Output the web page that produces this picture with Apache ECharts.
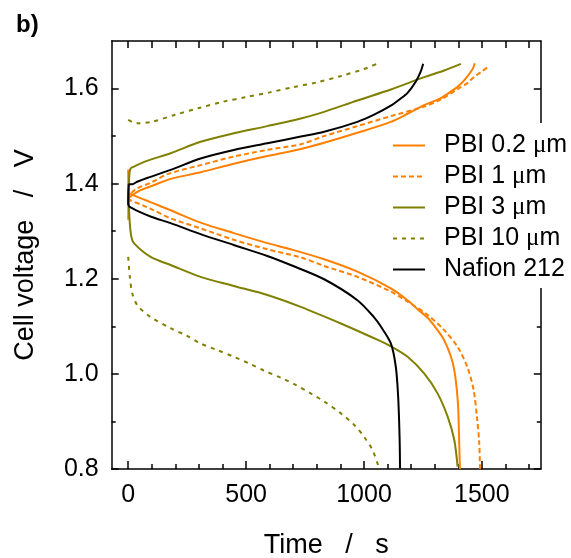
<!DOCTYPE html>
<html>
<head>
<meta charset="utf-8">
<script src="https://cdn.jsdelivr.net/npm/echarts@6/dist/echarts.min.js"></script>
<style>html,body{margin:0;padding:0;background:#fff;}#c{width:571px;height:558px;}</style>
</head>
<body>
<div id="c"></div>
<script>
// ---- data (time in s, cell voltage in V) ----
const pbi02ChargeT = [0, 3, 10, 50, 100, 180, 307, 448, 590, 732, 831, 972, 1114, 1185, 1255, 1326, 1369, 1397, 1425, 1461, 1470];
const pbi02ChargeV = [1.43, 1.37, 1.373, 1.386, 1.395, 1.410, 1.424, 1.442, 1.458, 1.473, 1.486, 1.507, 1.530, 1.547, 1.565, 1.580, 1.594, 1.604, 1.617, 1.641, 1.653];
const pbi02DisT = [0, 3, 10, 60, 100, 180, 307, 448, 590, 689, 831, 972, 1114, 1185, 1227, 1270, 1312, 1340, 1369, 1383, 1394, 1400, 1404, 1407];
const pbi02DisV = [1.324, 1.38, 1.378, 1.368, 1.360, 1.344, 1.318, 1.296, 1.275, 1.262, 1.241, 1.215, 1.180, 1.155, 1.136, 1.118, 1.092, 1.071, 1.036, 1.008, 0.966, 0.924, 0.854, 0.800];

const pbi1ChargeT = [0, 10, 38, 100, 166, 307, 448, 590, 732, 831, 972, 1114, 1255, 1330, 1397, 1440, 1468, 1500, 1522];
const pbi1ChargeV = [1.365, 1.378, 1.390, 1.403, 1.420, 1.439, 1.457, 1.471, 1.483, 1.500, 1.521, 1.542, 1.562, 1.578, 1.599, 1.612, 1.625, 1.636, 1.644];
const pbi1DisT = [0, 10, 60, 100, 180, 307, 448, 590, 732, 831, 972, 1114, 1185, 1270, 1340, 1397, 1440, 1465, 1479, 1489, 1492];
const pbi1DisV = [1.37, 1.365, 1.355, 1.346, 1.327, 1.306, 1.282, 1.262, 1.245, 1.227, 1.204, 1.173, 1.152, 1.124, 1.092, 1.057, 1.012, 0.966, 0.910, 0.854, 0.800];

const pbi3ChargeT = [0, 5, 10, 24, 80, 180, 307, 448, 590, 732, 831, 972, 1114, 1255, 1340, 1411];
const pbi3ChargeV = [1.36, 1.42, 1.432, 1.436, 1.448, 1.464, 1.488, 1.506, 1.521, 1.537, 1.551, 1.575, 1.598, 1.624, 1.638, 1.652];
const pbi3DisT = [0, 5, 13, 24, 95, 180, 307, 448, 590, 732, 902, 1043, 1114, 1185, 1255, 1312, 1355, 1383, 1397];
const pbi3DisV = [1.40, 1.33, 1.289, 1.275, 1.246, 1.229, 1.204, 1.185, 1.166, 1.141, 1.106, 1.075, 1.058, 1.036, 1.001, 0.959, 0.910, 0.861, 0.805];

const pbi10ChargeT = [0, 20, 40, 100, 200, 300, 400, 500, 600, 700, 800, 900, 1000, 1054];
const pbi10ChargeV = [1.534, 1.529, 1.527, 1.530, 1.545, 1.559, 1.572, 1.582, 1.592, 1.603, 1.613, 1.626, 1.641, 1.652];
const pbi10DisT = [0, 7, 17, 38, 88, 180, 250, 307, 378, 448, 512, 576, 647, 710, 774, 831, 902, 958, 1000, 1036, 1060];
const pbi10DisV = [1.246, 1.204, 1.170, 1.145, 1.122, 1.096, 1.080, 1.064, 1.050, 1.036, 1.022, 1.007, 0.992, 0.977, 0.959, 0.942, 0.917, 0.893, 0.868, 0.840, 0.808];

const nafChargeT = [0, 3, 17, 38, 80, 180, 307, 448, 590, 732, 831, 972, 1043, 1114, 1150, 1185, 1220, 1241, 1251];
const nafChargeV = [1.355, 1.399, 1.399, 1.404, 1.412, 1.429, 1.453, 1.471, 1.485, 1.499, 1.509, 1.530, 1.545, 1.564, 1.577, 1.591, 1.615, 1.636, 1.652];
const nafDisT = [0, 10, 60, 100, 180, 307, 448, 590, 689, 831, 972, 1043, 1071, 1114, 1135, 1145, 1151, 1153];
const nafDisV = [1.355, 1.350, 1.338, 1.330, 1.317, 1.294, 1.271, 1.248, 1.229, 1.199, 1.155, 1.119, 1.100, 1.064, 1.015, 0.952, 0.868, 0.801];

const seriesNames = ['PBI 0.2 μm', 'PBI 1 μm', 'PBI 3 μm', 'PBI 10 μm', 'Nafion 212'];
const xMajorTicks = [0, 500, 1000, 1500];
const xMinorTicks = [0, 100, 200, 300, 400, 500, 600, 700, 800, 900, 1000, 1100, 1200, 1300, 1400, 1500, 1600, 1700];
const yMajorTicks = [0.8, 1.0, 1.2, 1.4, 1.6];
const yMinorTicks = [0.9, 1.1, 1.3, 1.5];

// ---- build ----
const zip = (t, v) => t.map((x, i) => [x, v[i]]);
const ORANGE = '#FF8000', OLIVE = '#808000', BLACK = '#000000';
const FONT = 'Liberation Sans, Arial, sans-serif';

function mk(name, t, v, color, dash) {
  return {
    type: 'line', name: name, data: zip(t, v),
    xAxisIndex: 0, yAxisIndex: 0,
    symbol: 'none', showSymbol: false, smooth: 0.3,
    lineStyle: { color: color, width: 2, type: dash || 'solid' },
    itemStyle: { color: color },
    emphasis: { disabled: true }, animation: false, z: 2
  };
}

const series = [
  mk(seriesNames[0], pbi02ChargeT, pbi02ChargeV, ORANGE),
  mk(seriesNames[0], pbi02DisT, pbi02DisV, ORANGE),
  mk(seriesNames[1], pbi1ChargeT, pbi1ChargeV, ORANGE, [5, 3]),
  mk(seriesNames[1], pbi1DisT, pbi1DisV, ORANGE, [5, 3]),
  mk(seriesNames[2], pbi3ChargeT, pbi3ChargeV, OLIVE),
  mk(seriesNames[2], pbi3DisT, pbi3DisV, OLIVE),
  mk(seriesNames[3], pbi10ChargeT, pbi10ChargeV, OLIVE, [4, 5]),
  mk(seriesNames[3], pbi10DisT, pbi10DisV, OLIVE, [4, 5]),
  mk(seriesNames[4], nafChargeT, nafChargeV, BLACK),
  mk(seriesNames[4], nafDisT, nafDisV, BLACK)
];

const XMIN = -70, XMAX = 1750, YMIN = 0.8, YMAX = 1.7;
const lineSt = { color: '#000', width: 1.5 };

function xAx(pos, showLine, ticks, len, labels, extra) {
  return Object.assign({
    type: 'value', position: pos, min: XMIN, max: XMAX, gridIndex: 0,
    axisLine: { show: showLine, onZero: false, lineStyle: lineSt },
    axisTick: { show: true, inside: true, length: len, customValues: ticks, lineStyle: lineSt },
    axisLabel: labels ? { show: true, customValues: labels, color: '#000', fontSize: 25, fontFamily: FONT, margin: 14,
                          formatter: v => String(Math.round(v)) } : { show: false },
    splitLine: { show: false }, minorTick: { show: false }
  }, extra || {});
}
function yAx(pos, showLine, ticks, len, labels, extra) {
  return Object.assign({
    type: 'value', position: pos, min: YMIN, max: YMAX, gridIndex: 0,
    axisLine: { show: showLine, onZero: false, lineStyle: lineSt },
    axisTick: { show: true, inside: true, length: len, customValues: ticks, lineStyle: lineSt },
    axisLabel: labels ? { show: true, customValues: labels, color: '#000', fontSize: 25, fontFamily: FONT, margin: 13,
                          formatter: v => Number(v).toFixed(1) } : { show: false },
    splitLine: { show: false }, minorTick: { show: false }
  }, extra || {});
}

const option = {
  backgroundColor: '#fff',
  animation: false,
  title: { text: 'b)', left: 11, top: 8, textStyle: { fontFamily: FONT, fontWeight: 'bold', fontSize: 24, color: '#000' } },
  grid: { left: 111.7, right: 30.2, top: 41, bottom: 89, containLabel: false, outerBoundsMode: 'none' },
  legend: {
    data: seriesNames,
    orient: 'vertical', left: 392, top: 123,
    padding: [10, 6, 6, 0],
    backgroundColor: '#fff',
    itemWidth: 32, itemHeight: 10, itemGap: 6,
    itemStyle: { opacity: 0, borderWidth: 0 },
    z: 10,
    selectedMode: false,
    formatter: n => n.replace('μ', '{mu|μ}'),
    textStyle: {
      fontFamily: FONT, fontSize: 25, color: '#000', lineHeight: 24, padding: [0, 0, 0, 14],
      rich: { mu: { fontFamily: 'Liberation Serif, serif', fontSize: 25, lineHeight: 24, color: '#000' } }
    }
  },
  xAxis: [
    xAx('bottom', true, xMajorTicks, 8, xMajorTicks, {
      name: 'Time   /   s', nameLocation: 'middle', nameGap: 63, nameMoveOverlap: false,
      nameTextStyle: { fontFamily: FONT, fontSize: 27, color: '#000' }
    }),
    xAx('bottom', false, xMinorTicks, 5, null),
    xAx('top', true, xMinorTicks, 7, null)
  ],
  yAxis: [
    yAx('left', true, yMajorTicks, 7, yMajorTicks, {
      name: 'Cell voltage   /   V', nameLocation: 'middle', nameGap: 73, nameRotate: 90, nameMoveOverlap: false,
      nameTextStyle: { fontFamily: FONT, fontSize: 27, color: '#000' }
    }),
    yAx('left', false, yMinorTicks, 4, null),
    yAx('right', true, yMajorTicks, 7, null),
    yAx('right', false, yMinorTicks, 4, null)
  ],
  series: series
};

const chart = echarts.init(document.getElementById('c'), null, { renderer: 'canvas' });
chart.setOption(option);
</script>
</body>
</html>
